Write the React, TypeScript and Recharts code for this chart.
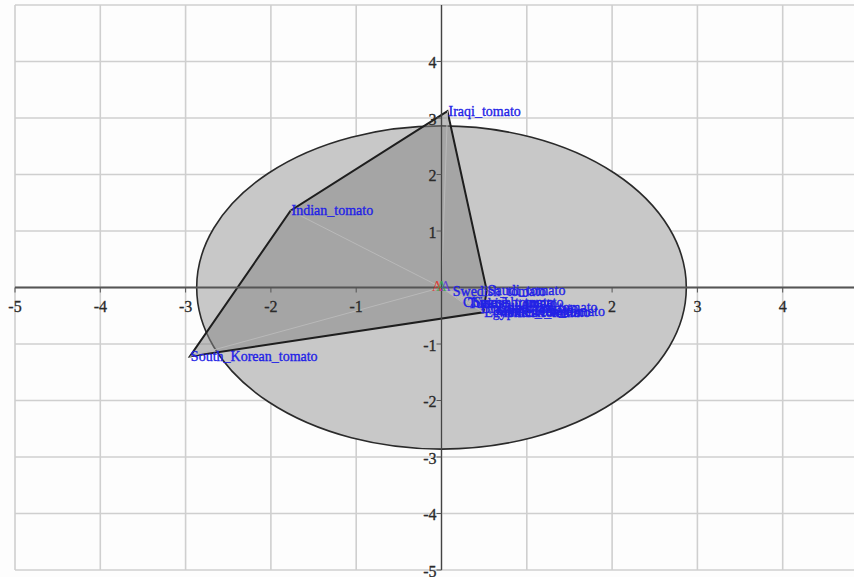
import React from "react";
import { ScatterChart, Scatter, XAxis, YAxis, CartesianGrid } from "recharts";

// axes / grid
const xTicks = [-5, -4, -3, -2, -1, 0, 1, 2, 3, 4, 5];
const yTicks = [-5, -4, -3, -2, -1, 0, 1, 2, 3, 4, 5];
const xTickLabels = [-5, -4, -3, -2, -1, 1, 2, 3, 4];
const yTickLabels = [4, 3, 2, 1, -1, -2, -3, -4, -5];

// samples
const sampleNames = [
  "Iraqi_tomato",
  "Indian_tomato",
  "South_Korean_tomato",
  "Swedish_tomato",
  "Saudi_tomato",
  "Chinese_tomato",
  "Turkish_tomato",
  "Spanish_tomato",
  "Brazilian_tomato",
  "Egyptian_tomato",
  "Italian_tomato",
  "Mexican_tomato",
  "Canadian_tomato",
  "American_tomato",
];
const sampleX = [0.07, -1.77, -2.95, 0.12, 0.53, 0.24, 0.3, 0.36, 0.45, 0.49, 0.58, 0.62, 0.66, 0.72];
const sampleY = [3.12, 1.36, -1.22, -0.07, -0.05, -0.26, -0.29, -0.27, -0.38, -0.44, -0.4, -0.45, -0.36, -0.43];

// polygon drawn round this group
const hullNames = ["Iraqi_tomato", "Saudi_tomato", "Egyptian_tomato", "South_Korean_tomato", "Indian_tomato"];

// confidence ellipse
const ellipseCenter = { x: 0, y: 0 };
const ellipseRadii = { x: 2.87, y: 2.86 };

// variables at the origin
const variableNames = ["A", "A", "A"];
const variableX = [-0.05, 0.0, 0.05];
const variableY = [0.02, 0.02, 0.02];
const variableColors = ["#e8302a", "#2fa84a", "#5a3ad8"];

const FONT = '"Liberation Serif", "Times New Roman", serif';

const samples = sampleNames.map((name, i) => ({ name, x: sampleX[i], y: sampleY[i] }));
const hull = hullNames.map((n) => samples.find((s) => s.name === n)!);
const origin = { x: 0, y: 0 };
const spokes = [origin, ...samples];
const ellipsePts = [
  ellipseCenter,
  { x: ellipseCenter.x + ellipseRadii.x, y: ellipseCenter.y },
  { x: ellipseCenter.x, y: ellipseCenter.y + ellipseRadii.y },
];
const xAxisLine = [{ x: -5, y: 0 }, { x: 5, y: 0 }];
const yAxisLine = [{ x: 0, y: -5 }, { x: 0, y: 5 }];
const xLabelData = xTickLabels.map((v) => ({ x: v, y: 0, label: String(v) }));
const yLabelData = yTickLabels.map((v) => ({ x: 0, y: v, label: String(v) }));
const variables = variableNames.map((name, i) => ({ name, x: variableX[i], y: variableY[i], color: variableColors[i] }));

const noDot = () => <g />;

export default function App() {
  return (
    <div style={{ position: "absolute", left: 0, top: 0, width: 854, height: 577, overflow: "hidden", background: "#fdfdfd" }}>
      <ScatterChart width={870} height={577} margin={{ top: 5, right: 2, bottom: 7, left: 15 }}>
        <CartesianGrid stroke="#cfcfcf" strokeWidth={1.6} />
        <XAxis type="number" dataKey="x" domain={[-5, 5]} ticks={xTicks} hide />
        <YAxis type="number" dataKey="y" domain={[-5, 5]} ticks={yTicks} hide />

        {/* ellipse */}
        <Scatter
          data={ellipsePts}
          isAnimationActive={false}
          shape={noDot}
          line={(p: any) => {
            const [c, rx, ry] = p.points;
            return (
              <ellipse
                cx={c.x}
                cy={c.y}
                rx={Math.abs(rx.x - c.x)}
                ry={Math.abs(ry.y - c.y)}
                fill="#c8c8c8"
                stroke="#2a2a2a"
                strokeWidth={1.6}
              />
            );
          }}
        />

        {/* group polygon */}
        <Scatter
          data={hull}
          isAnimationActive={false}
          shape={noDot}
          line={(p: any) => (
            <path
              d={p.points.map((q: any, i: number) => `${i ? "L" : "M"}${q.x},${q.y}`).join(" ") + " Z"}
              fill="#878787"
              fillOpacity={0.53}
              stroke="#1e1e1e"
              strokeWidth={2}
            />
          )}
        />

        {/* faint vectors from origin */}
        <Scatter
          data={spokes}
          isAnimationActive={false}
          shape={noDot}
          line={(p: any) => {
            const [o, ...rest] = p.points;
            return (
              <path
                d={rest.map((q: any) => `M${o.x},${o.y} L${q.x},${q.y}`).join(" ")}
                fill="none"
                stroke="#b9b9b9"
                strokeWidth={1}
              />
            );
          }}
        />

        {/* axis lines */}
        <Scatter data={xAxisLine} isAnimationActive={false} shape={noDot} line={{ stroke: "#555", strokeWidth: 2 }} />
        <Scatter data={yAxisLine} isAnimationActive={false} shape={noDot} line={{ stroke: "#444", strokeWidth: 1.3 }} />

        {/* x tick labels */}
        <Scatter
          data={xLabelData}
          isAnimationActive={false}
          shape={(p: any) => (
            <g>
              <line x1={p.cx} y1={p.cy} x2={p.cx} y2={p.cy + 5} stroke="#555" strokeWidth={1} />
              <text
                x={p.cx}
                y={p.cy + 19}
                textAnchor="middle"
                dominantBaseline="central"
                fontFamily={FONT}
                fontSize={16}
                fill="#2a2a2a"
                stroke="#2a2a2a"
                strokeWidth={0.3}
              >
                {p.payload.label}
              </text>
            </g>
          )}
        />

        {/* y tick labels */}
        <Scatter
          data={yLabelData}
          isAnimationActive={false}
          shape={(p: any) => (
            <g>
              <line x1={p.cx - 5} y1={p.cy} x2={p.cx} y2={p.cy} stroke="#555" strokeWidth={1} />
              <text
                x={p.cx - 5}
                y={p.cy + 1}
                textAnchor="end"
                dominantBaseline="central"
                fontFamily={FONT}
                fontSize={16}
                fill="#2a2a2a"
                stroke="#2a2a2a"
                strokeWidth={0.3}
              >
                {p.payload.label}
              </text>
            </g>
          )}
        />

        {/* variable markers */}
        <Scatter
          data={variables}
          isAnimationActive={false}
          shape={(p: any) => (
            <text
              x={p.cx}
              y={p.cy}
              textAnchor="middle"
              dominantBaseline="central"
              fontFamily={FONT}
              fontSize={15}
              fill={p.payload.color}
              fillOpacity={0.85}
            >
              {p.payload.name}
            </text>
          )}
        />

        {/* sample labels */}
        <Scatter
          data={samples}
          isAnimationActive={false}
          shape={(p: any) => (
            <text
              x={p.cx + 1}
              y={p.cy}
              dominantBaseline="central"
              fontFamily={FONT}
              fontSize={14}
              fill="#2222e6"
              stroke="#2222e6"
              strokeWidth={0.35}
            >
              {p.payload.name}
            </text>
          )}
        />
      </ScatterChart>
    </div>
  );
}
